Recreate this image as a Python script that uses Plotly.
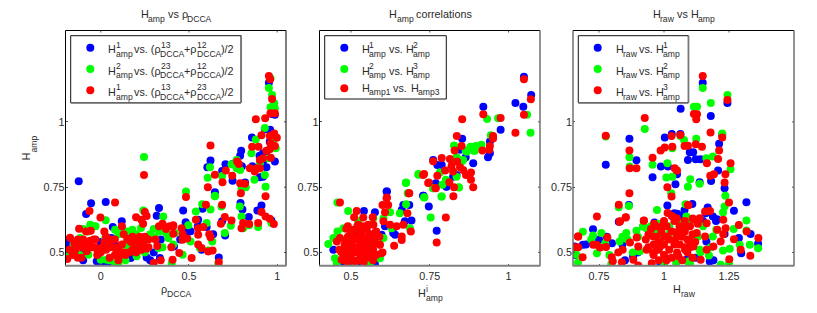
import plotly.graph_objects as go

BLUE, GREEN, RED = "#0000ff", "#00ff00", "#ff0000"

# Panel 1: H_amp vs rho_DCCA
p1_blue_x = [.953,.987,.93,.857,.796,.987,.622,.604,.707,.688,.939,.92,.747,.818,.647,-.125,.028,.958,.92,.902,-.055,-.083,.119,.068,.33,.317,0,.06,.17,.26,.335,.034,-.023,-.1,-.178,.156,.22,.298,.467,.577,.552,.481,.509,.6,.637,.688,.792,.839,.911,.888,.967,.803,.705,.669,.571,.415,.486,.96,.97,.98,.9,.86,.92,.94,.75,.79,.8,
 -.18,-.1,0,.05,.08,.17,.28,.3,.34,.45,.5,.55]
p1_blue_y = [1.15,1.027,.972,.94,.889,.848,.852,.826,.838,.812,.826,.79,.775,.768,.731,.773,.693,.924,.88,.788,.688,.647,.619,.597,.67,.641,.54,.555,.479,.481,.479,.459,.466,.5,.53,.56,.51,.46,.661,.667,.625,.616,.581,.597,.57,.619,.689,.636,.68,.661,.622,.664,.565,.481,.51,.523,.597,.97,1.03,1.05,.87,.83,.85,.87,.84,.87,.83,
 .55,.47,.46,.46,.53,.5,.47,.5,.55,.55,.58,.6]
p1_green_x = [.962,.953,.971,.983,.962,.987,.93,.879,.992,.854,.77,.741,.79,.619,.606,.688,.245,.871,.93,.934,.483,.647,.77,.949,.902,.798,.822,.977,.028,.241,.354,.119,-.042,-.06,.179,.228,.37,-.117,-.155,-.183,-.07,.034,.128,.081,.203,.326,.383,.157,.081,.332,.307,0,.025,.402,.647,.575,.539,.622,.684,.788,.798,.737,.6,.496,.703,.632,.562,.609,.464,.666,.841,.892,.967,.509,.42,.411,.807,
 -.1,-.07,-.03,.1,.15,.2,.28,.3,-.18,-.12,.05,.1,.14,.25,.35]
p1_green_y = [1.167,1.13,1.103,1.071,1.056,1.052,.977,.933,.899,.88,.854,.838,.816,.826,.786,.793,.866,.778,.797,.752,.733,.717,.822,.861,.842,.746,.75,.931,.623,.661,.638,.597,.6,.606,.587,.594,.574,.555,.53,.504,.491,.472,.53,.459,.485,.517,.555,.517,.587,.581,.558,.472,.555,.459,.715,.685,.657,.664,.676,.676,.638,.602,.613,.604,.574,.542,.517,.507,.491,.457,.604,.597,.613,.542,.574,.53,.593,
 .59,.58,.6,.57,.58,.57,.57,.59,.49,.49,.47,.46,.47,.5,.52]
p1_red_x = [.953,.96,.971,.962,.987,.879,.932,.911,.983,.958,.998,.962,.987,.958,.939,.622,.858,.894,.92,.964,.902,.773,.783,.709,.845,.883,.873,.902,.745,.647,.245,.69,.79,.817,.607,.483,.794,.934,
 -.19,-.18,-.174,-.16,-.15,-.14,-.13,-.12,-.11,-.1,-.09,-.08,-.07,-.06,-.04,-.03,-.02,-.02,.02,.03,.04,.03,.05,.06,.08,.09,.11,.12,.13,.14,.15,.16,.18,.18,.19,.2,.21,.22,.23,.24,.25,.26,.27,.2,.23,.25,.26,.24,.3,.34,.31,.32,.33,.35,.37,.39,.41,
 .081,-.064,-.002,-.123,-.083,-.057,.596,.688,.911,.934,.958,.981,.892,.841,.807,.798,.703,.741,.681,.539,.581,.552,.552,.458,.411,.411,.464,.49,.464,.615,.622,.552,.571,.609,.634,.445,.515,.669,.407,.4,
 -.15,-.13,-.1,-.08,-.05,-.03,0,.01,.02,.07,.1,.12,.13,.17,.2,.22,.24,.27,.05,.08,.1]
p1_red_y = [1.176,1.163,1.088,1.033,1.033,1.01,1.014,.949,.956,.946,.939,.918,.908,.895,.889,.91,.905,.905,.861,.863,.854,.848,.839,.814,.822,.822,.81,.822,.794,.798,.797,.769,.765,.763,.75,.712,.727,.715,
 .475,.51,.556,.49,.535,.515,.48,.53,.48,.52,.54,.505,.53,.545,.55,.52,.51,.49,.58,.56,.54,.51,.52,.55,.55,.5,.49,.6,.5,.49,.55,.5,.51,.56,.54,.53,.52,.545,.51,.52,.56,.515,.55,.635,.625,.655,.64,.61,.46,.47,.55,.525,.6,.61,.59,.6,.6,
 .691,.659,.634,.591,.58,.583,.683,.683,.655,.638,.629,.609,.613,.609,.613,.593,.636,.622,.61,.625,.597,.593,.568,.593,.604,.572,.57,.553,.549,.57,.558,.53,.517,.504,.507,.498,.479,.462,.472,.52,
 .5,.55,.55,.52,.52,.55,.5,.52,.54,.52,.52,.53,.57,.54,.5,.56,.54,.52,.48,.49,.47]

# Panel 2: H_amp correlations
p2_blue_x = [1.049,1.072,1.022,1.047,.92,.975,.853,.935,.941,.888,.774,.788,.761,.824,.803,.768,.614,.729,.835,.864,.941,.846,.613,.73,.747,.772,.692,.666,.685,.661,.541,.576,.769,.64,.576,.534,.47,.803,.486,.608,.634,.671,.597,.513,.444,.581,.497]
p2_blue_y = [1.173,1.103,1.072,1.058,1.058,.97,.935,.865,.88,.842,.835,.835,.854,.79,.752,.762,.733,.717,.797,.865,.925,.893,.733,.717,.676,.583,.622,.682,.682,.663,.659,.654,.765,.568,.455,.453,.453,.753,.497,.6,.574,.619,.568,.574,.51,.491,.478]
p2_green_x = [1.059,1.07,.932,.967,.944,.827,.864,.879,.896,.914,.89,.856,.837,.714,.674,.782,.801,.79,.842,.761,.684,.787,.733,.835,.819,.714,.675,.761,.788,.843,.732,.753,.675,.68,.457,.491,.428,.444,.457,.449,.455,.507,.592,.603,.655,.624,.603,.687,.56,.523,.476,.571,.629,.803,.835,.851,.867,.893]
p2_green_y = [1.027,.958,1.011,1.014,.949,.91,.89,.905,.908,.912,.889,.854,.861,.798,.766,.806,.778,.759,.75,.746,.727,.714,.711,.79,.854,.8,.768,.746,.714,.749,.71,.634,.685,.727,.691,.659,.532,.555,.58,.478,.459,.449,.478,.555,.65,.654,.631,.593,.459,.619,.593,.631,.593,.772,.865,.848,.886,.889]
p2_red_x = [1.049,1.071,.92,1.049,.975,.853,1.022,.836,.951,.951,.851,.829,.941,.939,.917,.788,.814,.761,.837,.819,.846,.799,.856,.824,.881,.865,.729,.774,.881,.812,.745,.888,.827,.768,.684,.825,.614,
 .732,.747,.769,.465,.685,.613,.6,.618,.608,.518,.51,.539,.569,.679,.801,.772,.637,.485,.661,.661,.69,.666,.645,.624,.603,.571,.555,.523,.507,.455,.463,.47,.491,.465,.486,.502,.523,.539,.555,.576,.592,.597,.571,.539,.513,.486,.513,.486,.529,.549,.534,.555,.502,.576,
 .47,.48,.49,.49,.5,.5,.5,.51,.51,.52,.52,.52,.53,.53,.53,.54,.54,.54,.55,.55,.55,.56,.56,.56,.57,.57,.57,.58,.58,.59,.59,.6,.51,.52,.5,.53,.48,.54,.49]
p2_red_y = [1.163,1.087,1.029,1.027,1.015,1.01,.958,.946,.946,.936,.908,.89,.908,.893,.89,.862,.858,.849,.848,.831,.826,.814,.816,.81,.806,.797,.797,.794,.778,.769,.766,.75,.75,.747,.727,.715,.71,
 .8,.768,.746,.691,.727,.708,.682,.682,.654,.659,.635,.634,.635,.65,.634,.538,.526,.591,.561,.548,.58,.606,.6,.606,.619,.606,.606,.606,.587,.542,.51,.472,.453,.555,.548,.529,.548,.523,.561,.536,.529,.497,.485,.472,.466,.485,.51,.517,.497,.497,.574,.523,.561,.574,
 .5,.53,.56,.5,.48,.54,.58,.5,.52,.47,.56,.6,.49,.53,.58,.46,.51,.55,.48,.54,.59,.5,.53,.57,.47,.51,.55,.49,.58,.53,.56,.5,.55,.51,.52,.47,.47,.6,.6]

# Panel 3: H_raw vs H_amp
p3_blue_x = [1.149,1.244,1.064,1.18,1.03,1.063,1.003,.867,1.224,1.212,1.099,1.112,.894,.776,1.092,1.122,1.14,.988,1.015,.956,1.05,1.208,1.181,1.137,1.044,1.233,1.013,1.317,1.269,.865,1.109,1.079,1.168,1.188,1.204,1.051,.963,.826,1.333,1.362,.727,.688,.8,.656,1.297,.986,.881,1.233,1.288,1.163,1.086,1.176,
 1.0,1.04,1.08,1.15,1.0,1.12,.9,.85,.84,.75,.78,.7,.66,1.19,1.16,1.2,1.06]
p3_blue_y = [1.15,1.072,1.05,1.023,.954,.954,.94,.935,.95,.916,.884,.884,.853,.836,.854,.857,.857,.829,.829,.788,.799,.814,.774,.769,.761,.746,.68,.692,.66,.682,.686,.663,.672,.638,.627,.648,.615,.618,.571,.533,.589,.529,.535,.523,.497,.456,.484,.571,.555,.542,.472,.465,
 .6,.65,.6,.62,.46,.48,.5,.47,.53,.55,.56,.53,.49,.47,.65,.62,.64]
p3_green_x = [1.149,1.244,1.18,1.115,1.127,.926,.776,1.063,1.077,1.124,1.224,1.032,.867,.956,1.013,.868,1.163,1.188,1.256,1.009,1.032,1.101,1.092,1.137,1.236,1.028,.865,.826,.973,1.083,1.233,1.227,1.317,1.268,1.317,1.201,.688,.727,.759,.855,.894,.919,.829,.842,.774,.742,.663,.669,.797,.906,1.047,1.218,1.25,1.253,1.227,1.33,1.362,1.291,1.173,1.137,1.188,1.092,.971,1.06,1.086,.932,1.022,1.099,
 .95,.98,1.02,1.06,1.1,1.13,1.15,.9,.92,.88,.86,1,1.1,1.14,1.18,.84,.79,.72]
p3_green_y = [1.13,1.103,1.072,1.058,1.058,.973,.944,.946,.931,.935,.956,.899,.865,.836,.842,.829,.861,.867,.819,.787,.79,.78,.752,.763,.717,.727,.678,.673,.663,.685,.676,.653,.622,.59,.584,.587,.579,.565,.574,.574,.583,.599,.542,.555,.535,.497,.491,.461,.456,.504,.459,.453,.459,.514,.507,.529,.516,.529,.488,.51,.561,.465,.574,.612,.638,.593,.574,.548,
 .6,.61,.6,.58,.62,.56,.6,.56,.6,.5,.55,.46,.46,.5,.52,.56,.49,.55]
p3_red_x = [1.149,1.244,1.115,1.127,1.124,.926,1.179,.776,1.029,1.063,1.224,1.079,1.092,1.122,1.146,1.032,1.003,.987,.867,1.212,.956,1.208,1.256,1.165,.868,.894,1.041,1.05,1.236,1.192,1.178,1.233,1.013,.867,1.029,.826,1.092,.742,.853,.829,.922,.669,
 1.094,1.014,1.158,1.177,1.25,1.228,1.119,1.137,1.164,1.039,.923,.962,.997,.853,.831,1.288,1.318,1.237,1.205,1.228,1.158,1.269,1.363,1.295,1.332,1.251,1.218,1.19,1.164,1.141,1.113,1.126,1.081,1.055,1.042,1.01,.985,.959,.94,.895,.869,.901,.933,.959,.985,1.01,1.055,1.081,1.1,.953,.901,.882,.838,.799,.803,.841,.824,.777,.754,.728,.741,.782,.67,.654,.67,.687,
 .93,.94,.95,.96,.96,.97,.97,.98,.98,.98,.99,1,1,1,1.01,1.01,1.02,1.02,1.03,1.03,1.04,1.04,1.05,1.05,1.06,1.06,1.07,1.07,1.08,1.08,1.09,1.09,1.1,1.1,1.11,1.11,1.12,1.03,1.05,1.08,1.11,1.13,1.0,.97]
p3_red_y = [1.176,1.084,1.03,1.029,1.01,1.015,.959,.947,.946,.95,.94,.908,.909,.914,.905,.905,.902,.89,.89,.89,.863,.858,.842,.842,.822,.822,.822,.814,.799,.799,.794,.768,.75,.727,.714,.683,.682,.638,.635,.618,.621,.561,
 .681,.651,.657,.659,.691,.625,.625,.631,.612,.634,.622,.61,.606,.634,.619,.605,.58,.593,.587,.57,.561,.551,.555,.51,.487,.474,.542,.523,.51,.472,.523,.574,.593,.58,.548,.561,.536,.561,.568,.557,.538,.523,.51,.497,.523,.478,.485,.51,.542,.459,.45,.472,.462,.482,.466,.51,.5,.521,.519,.529,.529,.557,.561,.52,.52,.482,
 .55,.52,.59,.49,.53,.56,.6,.47,.51,.54,.58,.49,.53,.56,.47,.6,.51,.55,.58,.48,.53,.62,.56,.5,.6,.53,.47,.56,.52,.58,.5,.55,.6,.52,.57,.48,.54,.64,.63,.62,.63,.61,.62,.51]

x_ticks_1 = [0, 0.5, 1]
x_ticks_2 = [0.5, 0.75, 1]
x_ticks_3 = [0.75, 1, 1.25]
y_ticks = [0.5, 0.75, 1]
x_tick_text_1 = ["0", "0.5", "1"]
x_tick_text_2 = ["0.5", "0.75", "1"]
x_tick_text_3 = ["0.75", "1", "1.25"]
y_tick_text = ["0.5", "0.75", "1"]

W, H_ = 817, 313
FONT = "Liberation Sans"
INK = "#2a2a2a"
MAIN, SUB = 10.8, 8.6
LEFT = [65.5, 319.5, 573.0]
RIGHT = [286.0, 540.0, 794.0]
TOP, BOTTOM = 30.5, 265.5

fig = go.Figure()
panels = [
    ("x", "y", [(p1_blue_x, p1_blue_y, BLUE), (p1_green_x, p1_green_y, GREEN), (p1_red_x, p1_red_y, RED)]),
    ("x2", "y2", [(p2_blue_x, p2_blue_y, BLUE), (p2_green_x, p2_green_y, GREEN), (p2_red_x, p2_red_y, RED)]),
    ("x3", "y3", [(p3_blue_x, p3_blue_y, BLUE), (p3_green_x, p3_green_y, GREEN), (p3_red_x, p3_red_y, RED)]),
]
for xa, ya, series in panels:
    for xs, ys, c in series:
        fig.add_trace(go.Scatter(x=xs, y=ys, xaxis=xa, yaxis=ya, mode="markers",
                                 marker=dict(color=c, size=8, line=dict(width=0)), showlegend=False))

def xax(i, rng, vals, txt):
    return dict(domain=[LEFT[i]/W, RIGHT[i]/W], range=rng, tickmode="array", tickvals=vals, ticktext=txt,
                ticks="inside", ticklen=2, tickcolor="#555", tickwidth=1, showgrid=False, zeroline=False,
                showline=False, mirror=False, ticklabelstandoff=3,
                tickfont=dict(family=FONT, size=MAIN, color=INK), anchor=f"y{i+1 if i else ''}")

def yax(i):
    return dict(domain=[1-BOTTOM/H_, 1-TOP/H_], range=[0.45, 1.35], tickmode="array", tickvals=y_ticks, ticktext=y_tick_text,
                ticks="inside", ticklen=2, tickcolor="#555", tickwidth=1, showgrid=False, zeroline=False,
                showline=False, tickfont=dict(family=FONT, size=MAIN, color=INK), anchor=f"x{i+1 if i else ''}")

shapes, annos = [], []

def line(x0, y0, x1, y1, color="#000", width=1, layer="above"):
    shapes.append(dict(type="line", xref="paper", yref="paper", x0=x0/W, x1=x1/W, y0=1-y0/H_, y1=1-y1/H_,
                       line=dict(color=color, width=width), layer=layer))

def text(x, base, s, size=MAIN):
    annos.append(dict(xref="paper", yref="paper", x=x/W, y=1-(base-0.22*size)/H_, text=s, showarrow=False,
                      xanchor="left", yanchor="middle", borderpad=0, borderwidth=0,
                      font=dict(family=FONT, size=size, color=INK)))

def vtext(x, y, s, size=MAIN):
    annos.append(dict(xref="paper", yref="paper", x=x/W, y=1-y/H_, text=s, showarrow=False, textangle=-90,
                      xanchor="center", yanchor="middle", borderpad=0, font=dict(family=FONT, size=size, color=INK)))

for i in range(3):
    l, r = LEFT[i], RIGHT[i]
    xv = [x_ticks_1, x_ticks_2, x_ticks_3][i]
    rng = [[-0.2, 1.05], [0.4, 1.1], [0.65, 1.5]][i]
    for v in xv:
        px = l + (v-rng[0])/(rng[1]-rng[0])*(r-l)
        line(px, TOP, px, TOP+2, "#555")
    for v in y_ticks:
        py = BOTTOM - (v-0.45)/0.9*(BOTTOM-TOP)
        line(r, py, r-2, py, "#555")
    line(l, TOP, r, TOP)
    line(l, TOP, l, BOTTOM, "#000" if i < 2 else "#666", 1 if i < 2 else 1.4)
    line(r, TOP, r, BOTTOM, "#000" if i == 0 else "#666", 1 if i == 0 else 1.4)
    line(l-0.5, BOTTOM+0.3, r+0.5, BOTTOM+0.3, "#808080", 2)

def box(x0, y0, x1, y1, grey=False):
    shapes.append(dict(type="rect", xref="paper", yref="paper", x0=x0/W, x1=x1/W, y0=1-y0/H_, y1=1-y1/H_,
                       fillcolor="white", line=dict(color="#111", width=1), layer="above"))
    if grey:
        line(x0, y1+0.4, x1, y1+0.4, "#777", 1.5)
        line(x1+0.3, y0, x1+0.3, y1, "#777", 1.5)

def dot(x, y, c):
    r = 4
    shapes.append(dict(type="circle", xref="paper", yref="paper", x0=(x-r)/W, x1=(x+r)/W, y0=1-(y+r)/H_, y1=1-(y-r)/H_,
                       fillcolor=c, line=dict(width=0), layer="above"))

box(70.7, 35.7, 241, 102.7, True)
box(324.7, 35.7, 446.3, 99)
box(578.3, 35.7, 688.3, 102.7, True)
for x, ys in [(90.3, (47.7, 69, 90.3)), (344.3, (47.7, 69, 88.3)), (597.7, (47.7, 69, 90.3))]:
    for y, c in zip(ys, (BLUE, GREEN, RED)):
        dot(x, y, c)

for base, h, a, b in [(51.7, "1", "13", "12"), (73, "2", "23", "12"), (94.3, "1", "13", "23")]:
    text(107.7, base, "H")
    text(115.5, base-5, h, SUB)
    text(115.5, base+4.3, "amp", SUB)
    text(134.3, base, "vs. (ρ")
    text(160.8, base-5, a, SUB)
    text(160.3, base+4.3, "DCCA", SUB)
    text(184, base, "+ρ")
    text(197, base-5, b, SUB)
    text(196.7, base+4.3, "DCCA", SUB)
    text(220.7, base, ")/2")

for base, a, b in [(51.7, "1", "2"), (73, "2", "3")]:
    text(361.7, base, "H")
    text(369.3, base-5, a, SUB)
    text(369.3, base+4.3, "amp", SUB)
    text(389, base, "vs.")
    text(405.7, base, "H")
    text(412.8, base-5, b, SUB)
    text(412.8, base+4.3, "amp", SUB)
text(361.7, 90, "H")
text(369.3, 94.3, "amp1", SUB)
text(392.7, 90, "vs.")
text(410.7, 90, "H")
text(417.5, 94.3, "amp3", SUB)

for base, a in [(51.7, "1"), (73, "2"), (94.3, "3")]:
    text(615.7, base, "H")
    text(622.8, base+4.3, "raw", SUB)
    text(639, base, "vs.")
    text(655.7, base, "H")
    text(662.9, base-5, a, SUB)
    text(662.9, base+4.3, "amp", SUB)

text(140.7, 16.7, "H"); text(148.3, 21, "amp", SUB); text(167.7, 16.7, "vs"); text(181.7, 16.7, "ρ"); text(187.3, 21, "DCCA", SUB)
text(389.3, 16.7, "H"); text(396.9, 21, "amp", SUB); text(416, 16.7, "correlations")
text(652.7, 16.7, "H"); text(660.3, 21, "raw", SUB); text(676.7, 16.7, "vs"); text(690.7, 16.7, "H"); text(698, 21, "amp", SUB)

text(161, 291.7, "ρ"); text(166.5, 295.7, "DCCA", SUB)
text(417.7, 295.7, "H"); text(425.7, 290.7, "i", SUB); text(425.7, 300, "amp", SUB)
text(673.3, 291.7, "H"); text(680.7, 295.7, "raw", SUB)
vtext(25.5, 157, "H")
vtext(33.5, 144, "amp", SUB)

fig.update_layout(
    width=W, height=H_, margin=dict(l=0, r=0, t=0, b=0), autosize=False,
    paper_bgcolor="white", plot_bgcolor="white", showlegend=False,
    xaxis=xax(0, [-0.2, 1.05], x_ticks_1, x_tick_text_1),
    xaxis2=xax(1, [0.4, 1.1], x_ticks_2, x_tick_text_2),
    xaxis3=xax(2, [0.65, 1.5], x_ticks_3, x_tick_text_3),
    yaxis=yax(0), yaxis2=yax(1), yaxis3=yax(2),
    shapes=shapes, annotations=annos,
)
fig.write_html("out.html", config=dict(displayModeBar=False),
               post_script="document.body.style.margin='0';document.documentElement.style.overflow='hidden';")
